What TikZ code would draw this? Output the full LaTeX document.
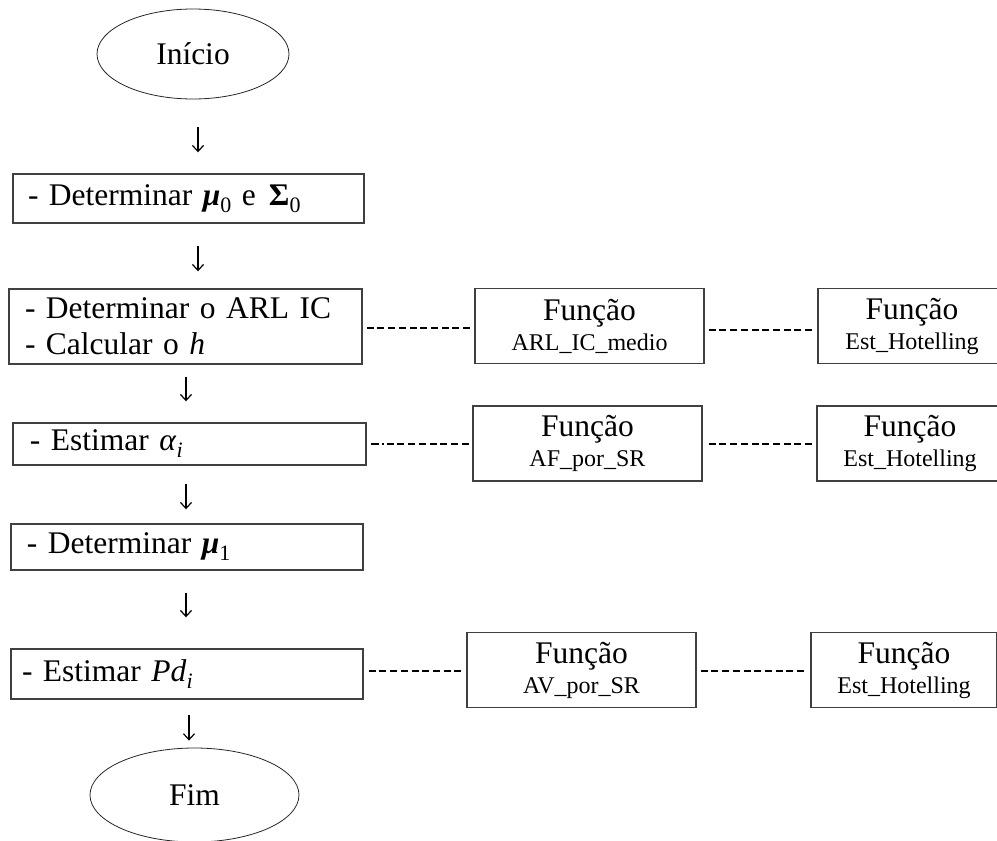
\documentclass[tikz,border=0pt]{standalone}
\usepackage{fontspec}
\setmainfont[WordSpace=0.72]{Liberation Serif}
\usetikzlibrary{shapes.geometric,arrows.meta}
% lowered index written in the text font
\newcommand\lowidx[1]{\raisebox{-0.22em}{\fontsize{22}{22}\selectfont #1}}
\begin{document}
\begin{tikzpicture}[x=1pt,y=-1pt,
  big/.style={font=\fontsize{31.5}{36}\selectfont},
  terminal/.style={draw=black!85, line width=0.8pt, ellipse, inner sep=0pt, big},
  stepbox/.style={draw=black!75, line width=1.4pt, rectangle, inner ysep=0pt, big, align=left},
  funcbox/.style={draw=black!75, line width=1.4pt, rectangle, inner sep=0pt, align=center,
    minimum height=75pt, font=\fontsize{24}{30}\selectfont},
  flowarr/.style={line width=1.2pt, -{Straight Barb[length=6pt,width=11pt]}},
  link/.style={line width=1.8pt, dash pattern=on 7pt off 3.7pt},
]
\useasboundingbox (0,0) rectangle (997,841);
\clip (0,0) rectangle (997,841);

% columns of the short downward arrows
\coordinate (colA) at (198,0);
\coordinate (colB) at (186,0);
\coordinate (colC) at (189,0);

% main flow
\node[terminal, minimum width=192pt, minimum height=90pt] (ini) at (193,54) {Início};

\node[stepbox, minimum height=49pt, text width=321pt, inner xsep=15pt] (b1) at (188.5,198.5)
  {- Determinar \textbf{\textit{μ}}\lowidx{0} e\hspace{13pt}\textbf{Σ}\lowidx{0}};

\node[stepbox, minimum height=75pt, text width=321pt, inner xsep=16pt] (b2) at (185.5,326.5)
  {- Determinar o ARL IC\\- Calcular o \textit{h}};

\node[stepbox, minimum height=42pt, text width=319pt, inner xsep=17pt] (b3) at (189.5,444)
  {- Estimar \textit{α}\lowidx{\textit{i}}};

\node[stepbox, minimum height=46pt, text width=320pt, inner xsep=16pt] (b4) at (187,547)
  {- Determinar \textbf{\textit{μ}}\lowidx{1}};

\node[stepbox, minimum height=50pt, text width=330pt, inner xsep=11pt] (b5) at (187,674)
  {- Estimar \textit{Pd}\lowidx{\textit{i}}};

\node[terminal, minimum width=209pt, minimum height=94pt] (fim) at (194.5,795) {Fim};

% helper functions
\node[funcbox, minimum width=229pt] (f1) at (589.5,326) {{\fontsize{31.5}{30}\selectfont Função}\\ARL\_IC\_medio};
\node[funcbox, minimum width=188pt] (h1) at (912,326) {{\fontsize{31.5}{30}\selectfont Função}\\Est\_Hotelling};

\node[funcbox, minimum width=229pt] (f2) at (587.5,443.5) {{\fontsize{31.5}{30}\selectfont Função}\\AF\_por\_SR};
\node[funcbox, minimum width=186pt] (h2) at (910,443.5) {{\fontsize{31.5}{30}\selectfont Função}\\Est\_Hotelling};

\node[funcbox, minimum width=229pt] (f3) at (581.5,670) {{\fontsize{31.5}{30}\selectfont Função}\\AV\_por\_SR};
\node[funcbox, minimum width=186pt] (h3) at (904,670) {{\fontsize{31.5}{30}\selectfont Função}\\Est\_Hotelling};

% flow arrows
\draw[flowarr, shorten <=28pt, shorten >=21pt] (ini.south -| colA) -- (b1.north -| colA);
\draw[flowarr, shorten <=22pt, shorten >=17pt] (b1.south -| colA) -- (b2.north -| colA);
\draw[flowarr, shorten <=12pt, shorten >=21pt] (b2.south -| colB) -- (b3.north -| colB);
\draw[flowarr, shorten <=18pt, shorten >=14pt] (b3.south -| colB) -- (b4.north -| colB);
\draw[flowarr, shorten <=22pt, shorten >=31pt] (b4.south -| colB) -- (b5.north -| colB);
\draw[flowarr, shorten <=15pt, shorten >=7pt] (b5.south -| colC) -- (fim.north -| colC);

% dashed links to the functions
\draw[link, shorten <=4pt, shorten >=2pt] (b2.east |- 0,328) -- (f1.west |- 0,328);
\draw[link, shorten <=4pt, shorten >=5pt] (f1.east |- 0,330) -- (h1.west |- 0,330);
\draw[line width=1.8pt, dash pattern=on 8pt off 3pt on 2pt off 3pt on 7pt off 3.7pt on 7pt off 3.7pt on 7pt off 3.7pt on 7pt off 3.7pt on 7pt off 3.7pt on 7pt off 3.7pt on 7pt off 3.7pt on 7pt off 3.7pt,
  shorten <=4pt, shorten >=3pt] (b3.east |- 0,444) -- (f2.west |- 0,444);
\draw[link, shorten <=6pt, shorten >=4pt] (f2.east |- 0,444) -- (h2.west |- 0,444);
\draw[link, shorten <=5pt, shorten >=5pt] (b5.east |- 0,671) -- (f3.west |- 0,671);
\draw[link, shorten <=4pt, shorten >=6pt] (f3.east |- 0,671) -- (h3.west |- 0,671);
\end{tikzpicture}
\end{document}
